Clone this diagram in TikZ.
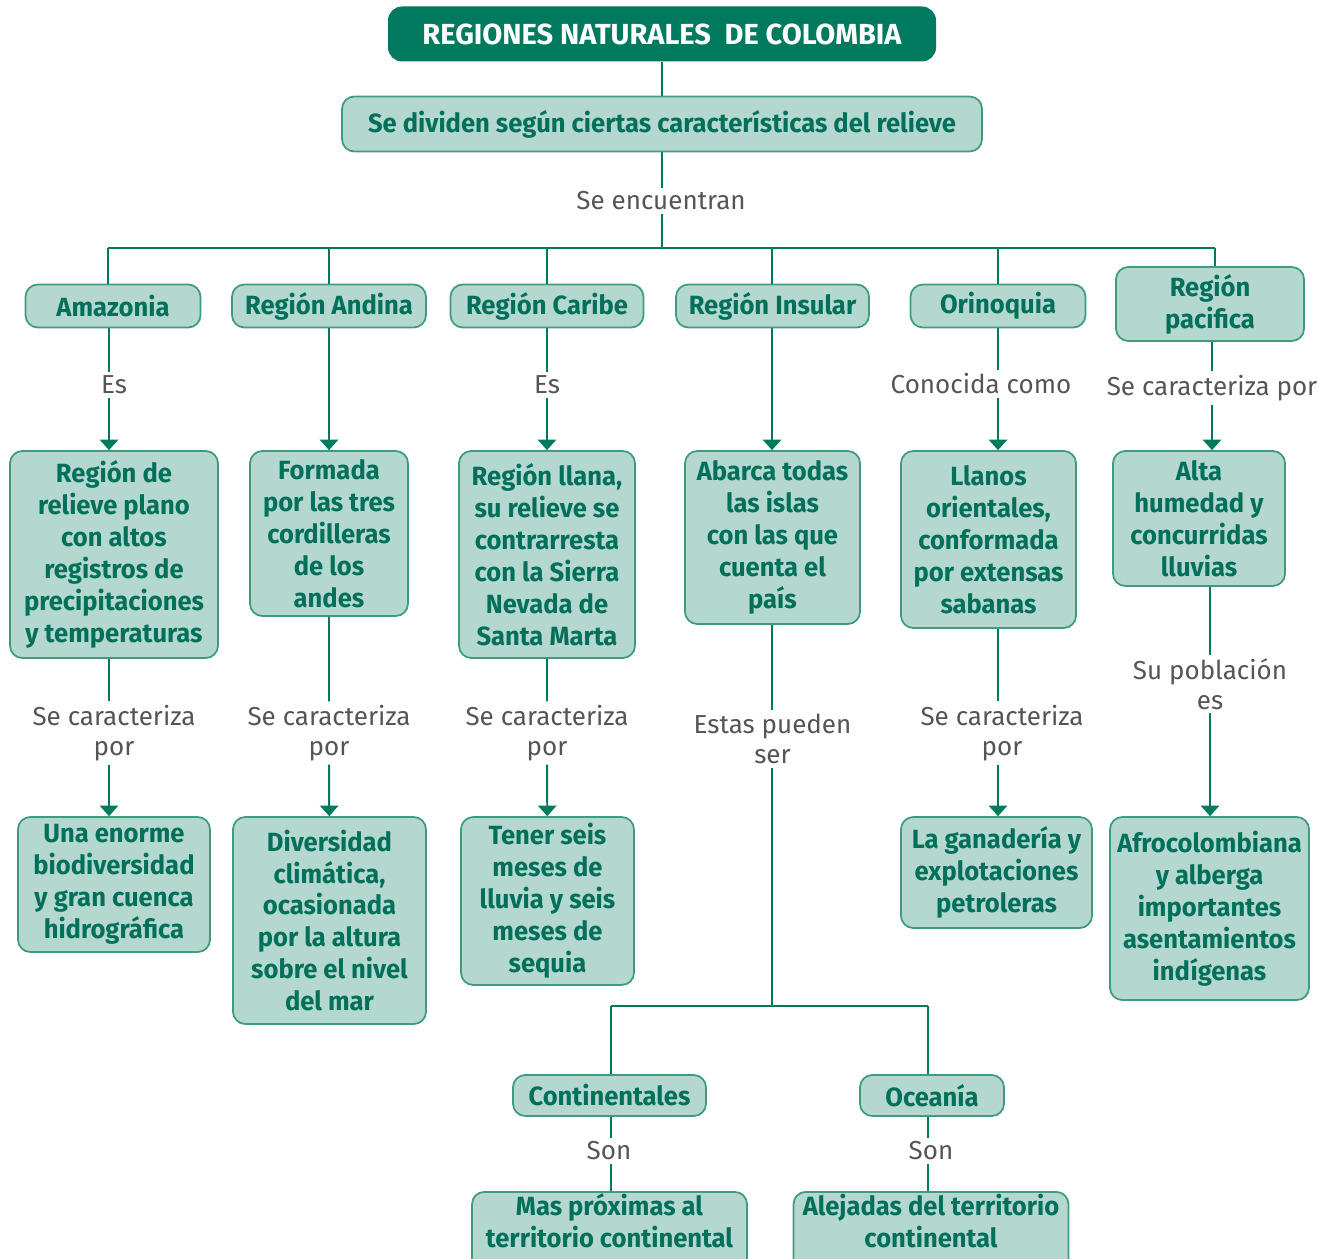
\documentclass[tikz,border=0pt]{standalone}
\usepackage{fontspec}
\usepackage{tikz}
\usetikzlibrary{arrows.meta}
\newfontfamily\mapfont{Fira Sans}[FakeStretch=0.97]
\newfontfamily\lblfont{Fira Sans}
\definecolor{mapdark}{HTML}{007A5E}
\definecolor{mapfill}{HTML}{B4D8CF}
\definecolor{mapline}{HTML}{3E9B80}
\definecolor{maptext}{HTML}{00705A}
\definecolor{lblgray}{HTML}{555555}

\begin{document}
\begin{tikzpicture}[
	box/.style={draw=mapline,line width=1pt,fill=mapfill,rounded corners=7pt,text=maptext,align=center,inner sep=1pt,font=\mapfont\bfseries\fontsize{15}{18.2}\selectfont},
	titlebox/.style={fill=mapdark,rounded corners=8pt,text=white,align=center,font=\lblfont\bfseries\fontsize{16.5}{19}\selectfont},
	lbl/.style={text=lblgray,align=center,inner sep=2pt,font=\lblfont\fontsize{14.8}{17}\selectfont},
	link/.style={draw=mapdark,line width=1.1pt},
	arrow/.style={link,-{Triangle[width=10.5pt,length=6pt]}}]
	\useasboundingbox (0,0) rectangle (26.68,-25.18);
	\node [titlebox,minimum width=10.96cm,minimum height=1.1cm] (title) at (13.24,-0.68) {REGIONES NATURALES \ DE COLOMBIA};
	\node [box,minimum width=12.8cm,minimum height=1.1cm] (sub) at (13.24,-2.48) {Se dividen según ciertas características del relieve};
	\node [lbl] (encuentran) at (13.22,-4.02) {Se encuentran};
	\coordinate (busL) at (2.16,-4.96);
	\coordinate (busR) at (24.3,-4.96);
	\coordinate (amazx) at (2.18,0);
	\coordinate (insx) at (15.44,0);
	\node [box,minimum width=3.5cm,minimum height=0.86cm] (amaz) at (2.26,-6.12) {Amazonia};
	\node [box,minimum width=3.88cm,minimum height=0.86cm] (andina) at (6.58,-6.12) {Región Andina};
	\node [box,minimum width=3.86cm,minimum height=0.86cm] (caribe) at (10.94,-6.12) {Región Caribe};
	\node [box,minimum width=3.86cm,minimum height=0.86cm] (insular) at (15.45,-6.12) {Región Insular};
	\node [box,minimum width=3.5cm,minimum height=0.86cm] (orino) at (19.96,-6.12) {Orinoquia};
	\node [box,minimum width=3.76cm,minimum height=1.48cm] (pac) at (24.2,-6.08) {Región\\pacifica};
	\node [box,minimum width=4.16cm,minimum height=4.14cm] (amazdesc) at (2.28,-11.09) {Región de\\relieve plano\\con altos\\registros de\\precipitaciones\\y temperaturas};
	\node [box,minimum width=3.16cm,minimum height=3.3cm] (andinadesc) at (6.58,-10.67) {Formada\\por las tres\\cordilleras\\de los\\andes};
	\node [box,minimum width=3.52cm,minimum height=4.14cm] (caribedesc) at (10.94,-11.09) {Región llana,\\su relieve se\\contrarresta\\con la Sierra\\Nevada de\\Santa Marta};
	\node [box,minimum width=3.5cm,minimum height=3.46cm] (insdesc) at (15.45,-10.75) {Abarca todas\\las islas\\con las que\\cuenta el\\país};
	\node [box,minimum width=3.5cm,minimum height=3.54cm] (orinodesc) at (19.77,-10.79) {Llanos\\orientales,\\conformada\\por extensas\\sabanas};
	\node [box,minimum width=3.44cm,minimum height=2.7cm] (pacdesc) at (23.98,-10.37) {Alta\\humedad y\\concurridas\\lluvias};
	\node [lbl] (es1) at (2.28,-7.7) {Es};
	\node [lbl] (es2) at (10.94,-7.7) {Es};
	\node [lbl] (conocida) at (19.62,-7.68) {Conocida como};
	\node [lbl] (carac6) at (24.24,-7.76) {Se caracteriza por};
	\node [lbl] (carac1) at (2.28,-14.66) {Se caracteriza\\por};
	\node [lbl] (carac2) at (6.58,-14.66) {Se caracteriza\\por};
	\node [lbl] (carac3) at (10.94,-14.66) {Se caracteriza\\por};
	\node [lbl] (estas) at (15.45,-14.78) {Estas pueden\\ser};
	\node [lbl] (carac5) at (20.04,-14.66) {Se caracteriza\\por};
	\node [lbl] (poblacion) at (24.2,-13.68) {Su población\\es};
	\node [box,minimum width=3.84cm,minimum height=2.7cm] (amaz3) at (2.28,-17.69) {Una enorme\\biodiversidad\\y gran cuenca\\hidrográfica};
	\node [box,minimum width=3.86cm,minimum height=4.14cm] (andina3) at (6.59,-18.41) {Diversidad\\climática,\\ocasionada\\por la altura\\sobre el nivel\\del mar};
	\node [box,minimum width=3.46cm,minimum height=3.36cm] (caribe3) at (10.95,-18.02) {Tener seis\\meses de\\lluvia y seis\\meses de\\sequia};
	\node [box,minimum width=3.82cm,minimum height=2.22cm] (orino3) at (19.93,-17.45) {La ganadería y\\explotaciones\\petroleras};
	\node [box,minimum width=3.98cm,minimum height=3.66cm] (pac3) at (24.19,-18.17) {Afrocolombiana\\y alberga\\importantes\\asentamientos\\indígenas};
	\coordinate (brL) at (12.22,-20.12);
	\coordinate (brR) at (18.56,-20.12);
	\node [box,minimum width=3.86cm,minimum height=0.82cm] (cont) at (12.19,-21.91) {Continentales};
	\node [box,minimum width=2.88cm,minimum height=0.82cm] (ocea) at (18.64,-21.91) {Oceanía};
	\node [lbl] (son1) at (12.18,-23.02) {Son};
	\node [lbl] (son2) at (18.62,-23.02) {Son};
	\node [box,minimum width=5.5cm,minimum height=1.5cm,anchor=north] (mas) at (12.19,-23.82) {Mas próximas al\\territorio continental\\[0.55cm]};
	\node [box,minimum width=5.5cm,minimum height=1.5cm,anchor=north] (alej) at (18.62,-23.82) {Alejadas del territorio\\continental\\[0.55cm]};
	\draw [link] (title) -- (sub);
	\draw [link] (sub.south) -- (sub.south |- encuentran.north) (sub.south |- encuentran.south) -- (sub.south |- busL);
	\draw [link] (busL) -- (busR);
	\draw [link] (busL) -- (busL |- amaz.north);
	\draw [link] (andina) -- (andina |- busL);
	\draw [link] (caribe) -- (caribe |- busL);
	\draw [link] (insular.north -| insx) -- (insx |- busL);
	\draw [link] (orino) -- (orino |- busL);
	\draw [link] (busR) -- (busR |- pac.north);
	\draw [arrow] (amaz.south -| amazx) -- (es1.north -| amazx) (es1.south -| amazx) -- (amazdesc.north -| amazx);
	\draw [arrow] (andina) -- (andinadesc);
	\draw [arrow] (caribe) -- (es2) -- (caribedesc);
	\draw [arrow] (insular.south -| insx) -- (insdesc.north -| insx);
	\draw [arrow] (orino) -- (orino |- conocida.north) (orino |- conocida.south) -- (orino |- orinodesc.north);
	\draw [arrow] (pac.south -| carac6) -- (carac6) -- (carac6 |- pacdesc.north);
	\draw [arrow] (amazdesc.south -| amazx) -- (carac1.north -| amazx) (carac1.south -| amazx) -- (amaz3.north -| amazx);
	\draw [arrow] (andinadesc) -- (carac2) -- (andina3);
	\draw [arrow] (caribedesc) -- (carac3) -- (caribe3);
	\draw [link] (insdesc.south -| insx) -- (estas.north -| insx) (estas.south -| insx) -- (insx |- brL);
	\draw [arrow] (orinodesc.south -| orino) -- (orino |- carac5.north) (orino |- carac5.south) -- (orino |- orino3.north);
	\draw [arrow] (pacdesc.south -| poblacion) -- (poblacion) -- (poblacion |- pac3.north);
	\draw [link] (brL) -- (brR);
	\draw [link] (brL) -- (brL |- cont.north);
	\draw [link] (brR) -- (brR |- ocea.north);
	\draw [link] (cont.south -| brL) -- (son1.north -| brL) (son1.south -| brL) -- (mas.north -| brL);
	\draw [link] (ocea.south -| brR) -- (son2.north -| brR) (son2.south -| brR) -- (alej.north -| brR);
\end{tikzpicture}
\end{document}
